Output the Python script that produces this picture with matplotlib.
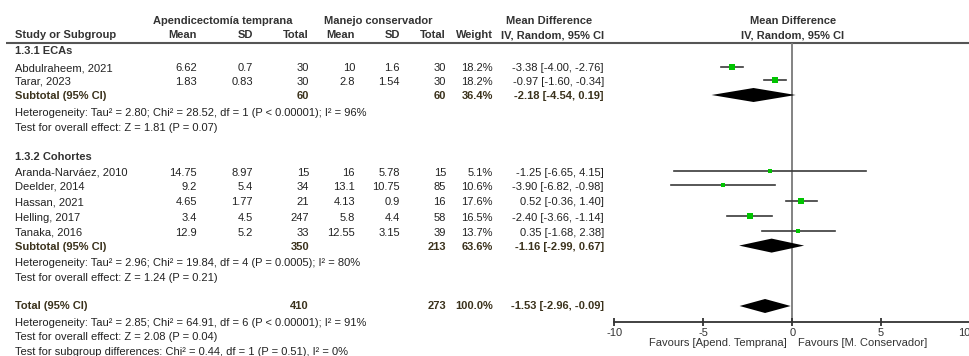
import numpy as np
import matplotlib.pyplot as plt

plt.rcParams['font.family'] = ['Liberation Sans', 'DejaVu Sans']
plt.rcParams['axes.unicode_minus'] = False

# 1.3.1 ECAs
studies1 = ['Abdulraheem, 2021', 'Tarar, 2023']
exp_mean1 = [6.62, 1.83]
exp_sd1 = [0.7, 0.83]
exp_n1 = [30, 30]
ctl_mean1 = [10, 2.8]
ctl_sd1 = [1.6, 1.54]
ctl_n1 = [30, 30]
weight1 = [18.2, 18.2]
md1 = [-3.38, -0.97]
lo1 = [-4.00, -1.60]
hi1 = [-2.76, -0.34]

# 1.3.2 Cohortes
studies2 = ['Aranda-Narváez, 2010', 'Deelder, 2014', 'Hassan, 2021',
            'Helling, 2017', 'Tanaka, 2016']
exp_mean2 = [14.75, 9.2, 4.65, 3.4, 12.9]
exp_sd2 = [8.97, 5.4, 1.77, 4.5, 5.2]
exp_n2 = [15, 34, 21, 247, 33]
ctl_mean2 = [16, 13.1, 4.13, 5.8, 12.55]
ctl_sd2 = [5.78, 10.75, 0.9, 4.4, 3.15]
ctl_n2 = [15, 85, 16, 58, 39]
weight2 = [5.1, 10.6, 17.6, 16.5, 13.7]
md2 = [-1.25, -3.90, 0.52, -2.40, 0.35]
lo2 = [-6.65, -6.82, -0.36, -3.66, -1.68]
hi2 = [4.15, -0.98, 1.40, -1.14, 2.38]

# subtotales y total
sub_exp_n = [60, 350]
sub_ctl_n = [60, 213]
sub_w = [36.4, 63.6]
sub_md = [-2.18, -1.16]
sub_lo = [-4.54, -2.99]
sub_hi = [0.19, 0.67]
tot_exp_n, tot_ctl_n, tot_w = 410, 273, 100.0
tot_md, tot_lo, tot_hi = -1.53, -2.96, -0.09

het1 = 'Heterogeneity: Tau² = 2.80; Chi² = 28.52, df = 1 (P < 0.00001); I² = 96%'
eff1 = 'Test for overall effect: Z = 1.81 (P = 0.07)'
het2 = 'Heterogeneity: Tau² = 2.96; Chi² = 19.84, df = 4 (P = 0.0005); I² = 80%'
eff2 = 'Test for overall effect: Z = 1.24 (P = 0.21)'
het_t = 'Heterogeneity: Tau² = 2.85; Chi² = 64.91, df = 6 (P < 0.00001); I² = 91%'
eff_t = 'Test for overall effect: Z = 2.08 (P = 0.04)'
sub_t = 'Test for subgroup differences: Chi² = 0.44, df = 1 (P = 0.51), I² = 0%'

ticks = [-10, -5, 0, 5, 10]

W, H = 970, 356
fig = plt.figure(figsize=(W / 100, H / 100), dpi=100)

# tabla de texto en coordenadas de pixel
tab = fig.add_axes([0, 0, 1, 1])
tab.set_xlim(0, W)
tab.set_ylim(H, 0)
tab.axis('off')

fs = 8
c_txt = '#222222'
c_head = '#333333'
c_sub = '#3b321c'

# columnas (borde derecho)
col_x = [197, 253, 309, 355, 400, 446, 493, 604]
x_lab = 15


def fmt(v):
    return f'{v:g}'


def ci_txt(m, l, h):
    return f'{m:.2f} [{l:.2f}, {h:.2f}]'


def row(y, cells, label, bold=False, color=c_txt):
    w = 'bold' if bold else 'normal'
    tab.text(x_lab, y, label, fontsize=fs, fontweight=w, color=color, va='center')
    for x, s in zip(col_x, cells):
        if s:
            tab.text(x, y, s, fontsize=fs, fontweight=w, color=color,
                     va='center', ha='right')


# encabezados
tab.text(223, 20.5, 'Apendicectomía temprana', fontsize=fs, fontweight='bold',
         color=c_head, ha='center', va='center')
tab.text(378, 20.5, 'Manejo conservador', fontsize=fs, fontweight='bold',
         color=c_head, ha='center', va='center')
tab.text(549, 20.5, 'Mean Difference', fontsize=fs, fontweight='bold',
         color=c_head, ha='center', va='center')
tab.text(792.7, 20.5, 'Mean Difference', fontsize=fs, fontweight='bold',
         color=c_head, ha='center', va='center')
tab.text(792.7, 35, 'IV, Random, 95% CI', fontsize=fs, fontweight='bold',
         color=c_head, ha='center', va='center')
row(35, ['Mean', 'SD', 'Total', 'Mean', 'SD', 'Total', 'Weight',
         'IV, Random, 95% CI'], 'Study or Subgroup', bold=True, color=c_head)
tab.plot([6, W], [42.5, 42.5], color='#555555', lw=1.5, solid_capstyle='butt')

y1 = [68.3, 81.7]
y2 = [172.8, 186.8, 202.2, 217.6, 232.6]
y_sub = [96, 246.6]
y_tot = 306

tab.text(x_lab, 51.5, '1.3.1 ECAs', fontsize=fs, fontweight='bold', color=c_head, va='center')
for i, s in enumerate(studies1):
    row(y1[i], [fmt(exp_mean1[i]), fmt(exp_sd1[i]), str(exp_n1[i]),
                fmt(ctl_mean1[i]), fmt(ctl_sd1[i]), str(ctl_n1[i]),
                f'{weight1[i]:.1f}%', ci_txt(md1[i], lo1[i], hi1[i])], s)
row(y_sub[0], ['', '', str(sub_exp_n[0]), '', '', str(sub_ctl_n[0]),
               f'{sub_w[0]:.1f}%', ci_txt(sub_md[0], sub_lo[0], sub_hi[0])],
    'Subtotal (95% CI)', bold=True, color=c_sub)
tab.text(x_lab, 113.3, het1, fontsize=fs, color=c_txt, va='center')
tab.text(x_lab, 127.8, eff1, fontsize=fs, color=c_txt, va='center')

tab.text(x_lab, 156.7, '1.3.2 Cohortes', fontsize=fs, fontweight='bold', color=c_head, va='center')
for i, s in enumerate(studies2):
    row(y2[i], [fmt(exp_mean2[i]), fmt(exp_sd2[i]), str(exp_n2[i]),
                fmt(ctl_mean2[i]), fmt(ctl_sd2[i]), str(ctl_n2[i]),
                f'{weight2[i]:.1f}%', ci_txt(md2[i], lo2[i], hi2[i])], s)
row(y_sub[1], ['', '', str(sub_exp_n[1]), '', '', str(sub_ctl_n[1]),
               f'{sub_w[1]:.1f}%', ci_txt(sub_md[1], sub_lo[1], sub_hi[1])],
    'Subtotal (95% CI)', bold=True, color=c_sub)
tab.text(x_lab, 263.3, het2, fontsize=fs, color=c_txt, va='center')
tab.text(x_lab, 278.3, eff2, fontsize=fs, color=c_txt, va='center')

row(y_tot, ['', '', str(tot_exp_n), '', '', str(tot_ctl_n),
            f'{tot_w:.1f}%', ci_txt(tot_md, tot_lo, tot_hi)],
    'Total (95% CI)', bold=True, color=c_sub)
tab.text(x_lab, 322.7, het_t, fontsize=fs, color=c_txt, va='center')
tab.text(x_lab, 336.8, eff_t, fontsize=fs, color=c_txt, va='center')
tab.text(x_lab, 351.7, sub_t, fontsize=fs, color=c_txt, va='center')

tab.text(787, 343.5, 'Favours [Apend. Temprana]', fontsize=fs, color=c_head,
         ha='right', va='center')
tab.text(798, 343.5, 'Favours [M. Conservador]', fontsize=fs, color=c_head,
         ha='left', va='center')

# panel del forest plot
x0, x1 = 614.5, 970
ytop, ybot = 42.5, 322
ax = fig.add_axes([x0 / W, (H - ybot) / H, (x1 - x0) / W, (ybot - ytop) / H])
ax.set_xlim(-10, 10)
ax.set_ylim(ybot, ytop)
ax.patch.set_alpha(0)
for side in ['top', 'left', 'right']:
    ax.spines[side].set_visible(False)
ax.spines['bottom'].set_color('#333333')
ax.spines['bottom'].set_linewidth(1.3)
ax.set_yticks([])
ax.set_xticks(ticks)
ax.set_xticklabels([str(t) for t in ticks])
ax.tick_params(axis='x', direction='inout', length=6, width=1.3,
               colors='#333333', labelsize=fs, pad=1)
# la ultima etiqueta queda en el borde: alinearla a la derecha
ax.get_xticklabels()[-1].set_horizontalalignment('right')
ax.axvline(0, color='#7a7a7a', lw=1.3, zorder=1)

green = '#00c400'
for md, lo, hi, w, ys in [(md1, lo1, hi1, weight1, y1), (md2, lo2, hi2, weight2, y2)]:
    for m, l, h, wt, yy in zip(md, lo, hi, w, ys):
        yy = yy - 1.5
        ax.plot([l, h], [yy, yy], color='#3a3a3a', lw=1.2, zorder=2)
        side_px = 1.5 + 0.9 * np.sqrt(wt)
        ax.plot(m, yy, 's', color=green, markersize=side_px * 0.72,
                markeredgewidth=0, zorder=3)

half = 7
for m, l, h, yy in [(sub_md[0], sub_lo[0], sub_hi[0], y_sub[0] - 1),
                    (sub_md[1], sub_lo[1], sub_hi[1], y_sub[1] - 1),
                    (tot_md, tot_lo, tot_hi, y_tot)]:
    ax.fill([l, m, h, m], [yy, yy - half, yy, yy + half], color='black',
            lw=0, zorder=3)

fig.savefig('out.png', dpi=100)
